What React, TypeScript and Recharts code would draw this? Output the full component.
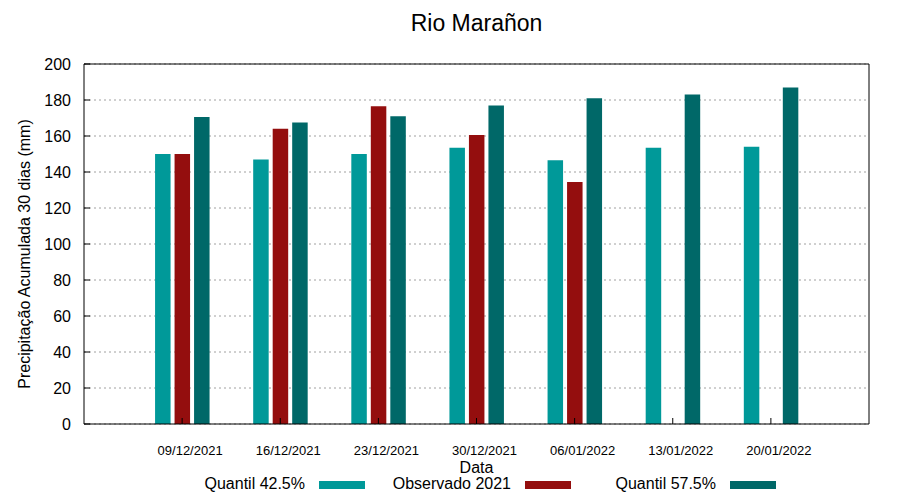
import React from "react";
import {
  BarChart,
  Bar,
  XAxis,
  YAxis,
  CartesianGrid,
} from "recharts";

const DATES = [
  "09/12/2021",
  "16/12/2021",
  "23/12/2021",
  "30/12/2021",
  "06/01/2022",
  "13/01/2022",
  "20/01/2022",
];
const QUANTIL_425 = [150, 147, 150, 153.5, 146.5, 153.5, 154];
const OBSERVADO_2021: (number | null)[] = [150, 164, 176.5, 160.5, 134.5, null, null];
const QUANTIL_575 = [170.5, 167.5, 171, 177, 181, 183, 187];
const Y_TICKS = [0, 20, 40, 60, 80, 100, 120, 140, 160, 180, 200];

const SERIES = [
  { key: "q425", name: "Quantil 42.5%", color: "#009999" },
  { key: "obs", name: "Observado 2021", color: "#940e0e" },
  { key: "q575", name: "Quantil 57.5%", color: "#006868" },
];

const data = DATES.map((d, i) => ({
  date: d,
  q425: QUANTIL_425[i],
  obs: OBSERVADO_2021[i],
  q575: QUANTIL_575[i],
}));

const FONT = "'Liberation Sans', Arial, sans-serif";

// plot box (gnuplot-like layout)
const W = 900;
const H = 500;
const LEFT = 84;
const RIGHT = 869;
const TOP = 64;
const BOTTOM = 424;
const BAND = (RIGHT - LEFT) / (DATES.length + 1);

function LeftTick(props: any) {
  const { x, y, payload } = props;
  return (
    <g>
      <line x1={LEFT} x2={LEFT + 6} y1={y} y2={y} stroke="#000" />
      <text
        x={LEFT - 13}
        y={y + 5.5}
        textAnchor="end"
        fontSize={16}
        fontFamily={FONT}
        fill="#000"
      >
        {payload.value}
      </text>
    </g>
  );
}

function RightTick(props: any) {
  const { y } = props;
  return <line x1={RIGHT - 6} x2={RIGHT} y1={y} y2={y} stroke="#000" />;
}

function BottomTick(props: any) {
  const { x, payload } = props;
  return (
    <g>
      <line x1={x} x2={x} y1={BOTTOM} y2={BOTTOM - 6} stroke="#000" />
      <text
        x={x + 8}
        y={BOTTOM + 31}
        textAnchor="middle"
        fontSize={13}
        fontFamily={FONT}
        fill="#000"
      >
        {payload.value}
      </text>
    </g>
  );
}

export default function App() {
  const legendEnds = [305, 511, 716];
  return (
    <div
      style={{
        position: "relative",
        width: W,
        height: H,
        fontFamily: FONT,
        background: "#fff",
      }}
    >
      <style>{`body{margin:0}`}</style>
      <BarChart
        width={W}
        height={H}
        data={data}
        margin={{ top: TOP - 10, right: W - RIGHT - 10, bottom: H - BOTTOM - 40, left: LEFT - 60 }}
        barSize={15.5}
        barGap={4}
      >
        <CartesianGrid
          vertical={false}
          stroke="#a0a0a0"
          strokeDasharray="2 3"
        />
        <XAxis
          dataKey="date"
          height={40}
          interval={0}
          padding={{ left: BAND / 2, right: BAND / 2 }}
          tickSize={0}
          tickMargin={0}
          tickLine={false}
          tick={<BottomTick />}
          axisLine={{ stroke: "#000" }}
        />
        <XAxis
          xAxisId="top"
          dataKey="date"
          orientation="top"
          height={10}
          tick={false}
          tickLine={false}
          axisLine={{ stroke: "#000" }}
        />
        <YAxis
          width={60}
          domain={[0, 200]}
          ticks={Y_TICKS}
          interval={0}
          tickSize={0}
          tickMargin={0}
          tickLine={false}
          tick={<LeftTick />}
          axisLine={{ stroke: "#000" }}
        />
        <YAxis
          yAxisId="right"
          orientation="right"
          width={10}
          domain={[0, 200]}
          ticks={Y_TICKS}
          interval={0}
          tickSize={0}
          tickMargin={0}
          tickLine={false}
          tick={<RightTick />}
          axisLine={{ stroke: "#000" }}
        />
        {SERIES.map((s) => (
          <Bar
            key={s.key}
            dataKey={s.key}
            name={s.name}
            fill={s.color}
            isAnimationActive={false}
          />
        ))}
      </BarChart>

      <div
        style={{
          position: "absolute",
          left: (LEFT + RIGHT) / 2 - 200,
          width: 400,
          top: 8,
          textAlign: "center",
          fontSize: 23,
          lineHeight: "30px",
        }}
      >
        Rio Marañon
      </div>

      <div
        style={{
          position: "absolute",
          left: 25 - 200,
          top: 254 - 10,
          width: 400,
          height: 20,
          lineHeight: "20px",
          textAlign: "center",
          fontSize: 16,
          transform: "rotate(-90deg)",
        }}
      >
        Precipitação Acumulada 30 dias (mm)
      </div>

      <div
        style={{
          position: "absolute",
          left: (LEFT + RIGHT) / 2 - 100,
          width: 200,
          top: 458,
          lineHeight: "20px",
          textAlign: "center",
          fontSize: 16,
        }}
      >
        Data
      </div>

      {SERIES.map((s, i) => (
        <React.Fragment key={s.key}>
          <div
            style={{
              position: "absolute",
              left: legendEnds[i] - 200,
              width: 200,
              top: 474,
              lineHeight: "20px",
              textAlign: "right",
              fontSize: 16,
            }}
          >
            {s.name}
          </div>
          <div
            style={{
              position: "absolute",
              left: legendEnds[i] + 14,
              top: 481,
              width: 46,
              height: 8,
              background: s.color,
            }}
          />
        </React.Fragment>
      ))}
    </div>
  );
}
